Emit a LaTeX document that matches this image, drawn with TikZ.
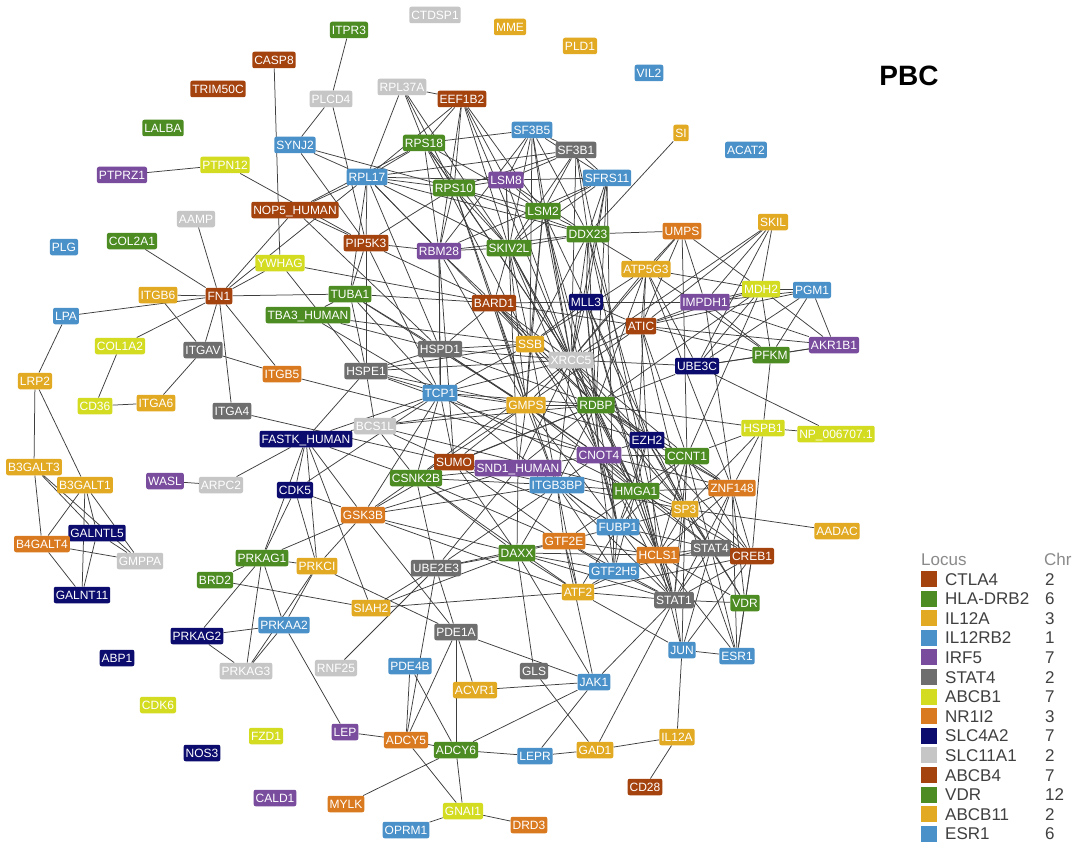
\documentclass[tikz,border=0pt]{standalone}
\usepackage{fontspec}
\setmainfont{Liberation Sans}
\definecolor{cBr}{HTML}{A5430F}
\definecolor{cGr}{HTML}{4C8C22}
\definecolor{cGo}{HTML}{E2A922}
\definecolor{cBl}{HTML}{4A91C9}
\definecolor{cPu}{HTML}{7A4C9E}
\definecolor{cGy}{HTML}{6E6E6E}
\definecolor{cLi}{HTML}{D4DC22}
\definecolor{cOr}{HTML}{DA7A20}
\definecolor{cNv}{HTML}{0C0C6E}
\definecolor{cLg}{HTML}{C6C6C6}
\definecolor{edgec}{HTML}{3E3E3E}
\definecolor{legtext}{HTML}{404040}
\definecolor{leghead}{HTML}{8A8A8A}
\pgfdeclarelayer{bgl}
\pgfdeclarelayer{edgel}
\pgfsetlayers{bgl,edgel,main}
\tikzset{
  nb/.style={rounded corners=2pt, text=white, font=\fontsize{12}{12}\selectfont,
    inner xsep=2pt, inner ysep=0pt, minimum height=16.5pt, text height=8.6pt, text depth=0pt},
  br/.style={nb, fill=cBr}, gr/.style={nb, fill=cGr}, go/.style={nb, fill=cGo},
  bl/.style={nb, fill=cBl}, pu/.style={nb, fill=cPu}, gy/.style={nb, fill=cGy},
  li/.style={nb, fill=cLi}, ora/.style={nb, fill=cOr}, nv/.style={nb, fill=cNv},
  lg/.style={nb, fill=cLg},
  ed/.style={draw=edgec, line width=0.75pt},
  legt/.style={text=legtext, font=\fontsize{17}{17}\selectfont, anchor=west, inner sep=0pt, text height=12pt, text depth=0pt}
}
\begin{document}
\begin{tikzpicture}[x=1pt,y=-1pt]
\useasboundingbox (0,0) rectangle (1082,848);
\begin{pgfonlayer}{bgl}
\fill[white] (0,0) rectangle (1082,848);
\end{pgfonlayer}
% nodes
\node[gr] (ITPR3) at (349,30) {ITPR3};
\node[lg] (CTDSP1) at (435,15) {CTDSP1};
\node[go] (MME) at (510,27) {MME};
\node[go] (PLD1) at (580,46) {PLD1};
\node[bl] (VIL2) at (649,73) {VIL2};
\node[br] (CASP8) at (274,60) {CASP8};
\node[br] (TRIM50C) at (218,89) {TRIM50C};
\node[lg] (RPL37A) at (402,87) {RPL37A};
\node[lg] (PLCD4) at (331,99) {PLCD4};
\node[br] (EEF1B2) at (462,99) {EEF1B2};
\node[gr] (LALBA) at (163,128) {LALBA};
\node[bl] (SF3B5) at (532,130) {SF3B5};
\node[go] (SI) at (681,133) {SI};
\node[gr] (RPS18) at (424,143) {RPS18};
\node[bl] (SYNJ2) at (295,145) {SYNJ2};
\node[gy] (SF3B1) at (576,150) {SF3B1};
\node[bl] (ACAT2) at (746,150) {ACAT2};
\node[li] (PTPN12) at (225,165) {PTPN12};
\node[pu] (PTPRZ1) at (122,175) {PTPRZ1};
\node[bl] (RPL17) at (367,177) {RPL17};
\node[bl] (SFRS11) at (607,178) {SFRS11};
\node[pu] (LSM8) at (506,180) {LSM8};
\node[gr] (RPS10) at (454,188) {RPS10};
\node[br] (NOP5) at (295,210) {NOP5\_HUMAN};
\node[gr] (LSM2) at (543,211) {LSM2};
\node[lg] (AAMP) at (196,219) {AAMP};
\node[go] (SKIL) at (773,222) {SKIL};
\node[ora] (UMPS) at (682,231) {UMPS};
\node[gr] (DDX23) at (588,234) {DDX23};
\node[gr] (COL2A1) at (132,241) {COL2A1};
\node[br] (PIP5K3) at (366,243) {PIP5K3};
\node[bl] (PLG) at (64,247) {PLG};
\node[gr] (SKIV2L) at (509,248) {SKIV2L};
\node[pu] (RBM28) at (439,251) {RBM28};
\node[li] (YWHAG) at (280,263) {YWHAG};
\node[go] (ATP5G3) at (646,269) {ATP5G3};
\node[li] (MDH2) at (761,289) {MDH2};
\node[bl] (PGM1) at (812,290) {PGM1};
\node[go] (ITGB6) at (158,295) {ITGB6};
\node[br] (FN1) at (219,296) {FN1};
\node[gr] (TUBA1) at (350,294) {TUBA1};
\node[br] (BARD1) at (494,303) {BARD1};
\node[nv] (MLL3) at (586,302) {MLL3};
\node[pu] (IMPDH1) at (705,302) {IMPDH1};
\node[gr] (TBA3) at (308,315) {TBA3\_HUMAN};
\node[bl] (LPA) at (66,316) {LPA};
\node[br] (ATIC) at (641,326) {ATIC};
\node[go] (SSB) at (530,344) {SSB};
\node[pu] (AKR1B1) at (834,345) {AKR1B1};
\node[li] (COL1A2) at (120,346) {COL1A2};
\node[gy] (HSPD1) at (440,349) {HSPD1};
\node[gy] (ITGAV) at (203,350) {ITGAV};
\node[gr] (PFKM) at (771,355) {PFKM};
\node[lg] (XRCC5) at (571,360) {XRCC5};
\node[nv] (UBE3C) at (697,366) {UBE3C};
\node[gy] (HSPE1) at (366,371) {HSPE1};
\node[ora] (ITGB5) at (282,374) {ITGB5};
\node[go] (LRP2) at (35,381) {LRP2};
\node[bl] (TCP1) at (440,393) {TCP1};
\node[go] (ITGA6) at (156,403) {ITGA6};
\node[li] (CD36) at (95,406) {CD36};
\node[go] (GMPS) at (526,405) {GMPS};
\node[gr] (RDBP) at (596,405) {RDBP};
\node[gy] (ITGA4) at (232,411) {ITGA4};
\node[lg] (BCS1L) at (375,426) {BCS1L};
\node[li] (HSPB1) at (763,428) {HSPB1};
\node[li] (NP006707) at (836,434) {NP\_006707.1};
\node[nv] (FASTK) at (306,439) {FASTK\_HUMAN};
\node[nv] (EZH2) at (647,440) {EZH2};
\node[pu] (CNOT4) at (599,455) {CNOT4};
\node[gr] (CCNT1) at (687,456) {CCNT1};
\node[br] (SUMO) at (454,462) {SUMO};
\node[go] (B3GALT3) at (34,467) {B3GALT3};
\node[pu] (SND1) at (518,468) {SND1\_HUMAN};
\node[gr] (CSNK2B) at (416,478) {CSNK2B};
\node[pu] (WASL) at (165,481) {WASL};
\node[lg] (ARPC2) at (221,485) {ARPC2};
\node[go] (B3GALT1) at (85,485) {B3GALT1};
\node[bl] (ITGB3BP) at (557,485) {ITGB3BP};
\node[nv] (CDK5) at (295,490) {CDK5};
\node[ora] (ZNF148) at (732,488) {ZNF148};
\node[gr] (HMGA1) at (636,491) {HMGA1};
\node[go] (SP3) at (685,509) {SP3};
\node[ora] (GSK3B) at (363,515) {GSK3B};
\node[bl] (FUBP1) at (618,527) {FUBP1};
\node[go] (AADAC) at (837,531) {AADAC};
\node[nv] (GALNTL5) at (97,533) {GALNTL5};
\node[ora] (GTF2E) at (564,541) {GTF2E};
\node[ora] (B4GALT4) at (42,544) {B4GALT4};
\node[gy] (STAT4) at (711,548) {STAT4};
\node[gr] (DAXX) at (517,553) {DAXX};
\node[ora] (HCLS1) at (658,555) {HCLS1};
\node[br] (CREB1) at (752,556) {CREB1};
\node[gr] (PRKAG1) at (262,558) {PRKAG1};
\node[lg] (GMPPA) at (140,561) {GMPPA};
\node[go] (PRKCI) at (317,566) {PRKCI};
\node[gy] (UBE2E3) at (436,568) {UBE2E3};
\node[bl] (GTF2H5) at (614,571) {GTF2H5};
\node[gr] (BRD2) at (215,580) {BRD2};
\node[go] (ATF2) at (578,592) {ATF2};
\node[nv] (GALNT11) at (82,595) {GALNT11};
\node[gy] (STAT1) at (674,600) {STAT1};
\node[gr] (VDR) at (745,603) {VDR};
\node[go] (SIAH2) at (371,608) {SIAH2};
\node[bl] (PRKAA2) at (284,625) {PRKAA2};
\node[gy] (PDE1A) at (456,632) {PDE1A};
\node[nv] (PRKAG2) at (197,636) {PRKAG2};
\node[bl] (JUN) at (682,650) {JUN};
\node[bl] (ESR1) at (737,656) {ESR1};
\node[nv] (ABP1) at (117,658) {ABP1};
\node[bl] (PDE4B) at (410,666) {PDE4B};
\node[lg] (RNF25) at (336,668) {RNF25};
\node[gy] (GLS) at (534,671) {GLS};
\node[lg] (PRKAG3) at (246,671) {PRKAG3};
\node[bl] (JAK1) at (594,682) {JAK1};
\node[go] (ACVR1) at (475,690) {ACVR1};
\node[li] (CDK6) at (158,705) {CDK6};
\node[pu] (LEP) at (345,732) {LEP};
\node[li] (FZD1) at (266,736) {FZD1};
\node[go] (IL12A) at (677,737) {IL12A};
\node[ora] (ADCY5) at (406,740) {ADCY5};
\node[gr] (ADCY6) at (456,750) {ADCY6};
\node[go] (GAD1) at (595,750) {GAD1};
\node[nv] (NOS3) at (202,753) {NOS3};
\node[bl] (LEPR) at (535,756) {LEPR};
\node[br] (CD28) at (645,787) {CD28};
\node[pu] (CALD1) at (275,798) {CALD1};
\node[ora] (MYLK) at (346,804) {MYLK};
\node[li] (GNAI1) at (463,811) {GNAI1};
\node[ora] (DRD3) at (529,825) {DRD3};
\node[bl] (OPRM1) at (406,830) {OPRM1};
% title
\node[font=\bfseries\fontsize{28}{28}\selectfont, inner sep=0pt] (title) at (909,76) {PBC};
% edges
\begin{pgfonlayer}{edgel}
\foreach \a/\b in {ITPR3/PLCD4, CASP8/YWHAG, PLCD4/SYNJ2, PLCD4/PIP5K3, SYNJ2/RPL17, SYNJ2/RPS10, SYNJ2/PIP5K3,
 PTPRZ1/PTPN12, PTPN12/PIP5K3, NOP5/RPL17, NOP5/RPS18, NOP5/PIP5K3, NOP5/FN1, NOP5/HSPD1,
 YWHAG/FN1, YWHAG/BARD1, YWHAG/HSPE1, FN1/RPL17, AAMP/FN1, COL2A1/FN1, ITGB6/FN1, LPA/FN1, LPA/LRP2,
 COL1A2/FN1, COL1A2/CD36, CD36/ITGA6, ITGA6/ITGAV, ITGB6/ITGAV, FN1/ITGAV, FN1/ITGA4, FN1/ITGB5,
 ITGAV/ITGB5, FN1/TUBA1, ITGA4/SUMO, ITGB5/CNOT4, LRP2/B3GALT3, LRP2/B3GALT1, B3GALT3/B4GALT4,
 B3GALT3/GALNTL5, B3GALT3/GMPPA, B3GALT1/B4GALT4, B3GALT1/GALNTL5, B3GALT1/GALNT11, B3GALT1/GMPPA,
 B4GALT4/GMPPA, B4GALT4/GALNT11, GALNTL5/GALNT11, GALNTL5/GMPPA, WASL/ARPC2, ARPC2/FASTK,
 FASTK/CDK5, FASTK/PRKAG1, FASTK/PRKCI, FASTK/GSK3B, FASTK/TCP1, FASTK/BCS1L, FASTK/CSNK2B,
 FASTK/SIAH2, FASTK/HSPE1, CDK5/GSK3B, CDK5/PRKAG1, CDK5/PRKCI, CDK5/TCP1, PRKAG1/PRKCI,
 PRKAG1/BRD2, PRKAG1/PRKAG2, PRKAG1/PRKAG3, PRKAG1/PRKAA2, PRKAG1/GSK3B, PRKCI/PRKAA2,
 PRKCI/PRKAG3, PRKCI/GSK3B, PRKCI/PDE1A, PRKAG2/PRKAA2, PRKAG2/PRKAG3, PRKAA2/PRKAG3,
 PRKAA2/LEP, BRD2/SIAH2, RNF25/UBE2E3, LEP/ADCY5, GSK3B/CSNK2B, GSK3B/PDE1A, GSK3B/SUMO,
 GSK3B/TCP1, GSK3B/SND1, GSK3B/ITGB3BP, SIAH2/ATF2, SIAH2/UBE2E3, UBE2E3/PDE1A, UBE2E3/ADCY5,
 UBE2E3/SND1, UBE2E3/CSNK2B, UBE2E3/ITGB3BP, PDE1A/ACVR1, PDE1A/ADCY6, PDE1A/ADCY5, PDE1A/JAK1,
 PDE4B/ADCY5, PDE4B/ADCY6, ADCY5/GNAI1, ADCY5/ADCY6, ADCY6/GNAI1, ADCY6/LEPR, ADCY6/JAK1,
 ADCY6/MYLK, GNAI1/OPRM1, GNAI1/DRD3, ACVR1/JAK1, GLS/DAXX, GLS/GAD1, JAK1/LEPR, JAK1/STAT1,
 JAK1/DAXX, JAK1/GTF2E, GAD1/IL12A, GAD1/LEPR, GAD1/STAT1, IL12A/JUN, IL12A/CD28, JUN/ESR1,
 JUN/STAT1, JUN/ATF2, JUN/STAT4, JUN/HCLS1, JUN/CREB1, JUN/SP3, ATF2/STAT1, ESR1/VDR, ESR1/STAT4,
 ESR1/CREB1, ESR1/HCLS1, ESR1/ZNF148, ESR1/SP3, VDR/STAT1, VDR/CREB1, VDR/STAT4, VDR/ZNF148, VDR/SP3,
 SUMO/GTF2E, CSNK2B/GTF2E, CSNK2B/ITGB3BP, UBE2E3/DAXX, UBE2E3/GTF2E, GSK3B/DAXX, GSK3B/ATF2,
 SIAH2/DAXX, TCP1/HMGA1, HSPE1/CNOT4, BCS1L/HMGA1, SUMO/FUBP1}
 \draw[ed] (\a) -- (\b);
\foreach \a/\b in {MDH2/PGM1, MDH2/PFKM, MDH2/AKR1B1, PGM1/AKR1B1, PGM1/PFKM, PFKM/AKR1B1, SKIL/MDH2,
 SKIL/ATIC, SKIL/IMPDH1, SKIL/UBE3C, SKIL/XRCC5, PFKM/HSPB1, HSPB1/NP006707, HSPB1/ZNF148,
 HSPB1/CREB1, HSPB1/CCNT1, HSPB1/SP3, RDBP/HSPB1, NP006707/UBE3C, AADAC/SP3, IMPDH1/MDH2,
 IMPDH1/PGM1, IMPDH1/ATIC, IMPDH1/MLL3, IMPDH1/AKR1B1, IMPDH1/PFKM, ATIC/MDH2, ATIC/PGM1,
 ATIC/PFKM, ATIC/AKR1B1, ATIC/XRCC5, ATIC/GMPS, UMPS/ATIC, UMPS/IMPDH1, UMPS/ATP5G3, UMPS/XRCC5,
 UMPS/MDH2, UMPS/DDX23, ATP5G3/MDH2, ATP5G3/XRCC5, ATP5G3/RDBP, ATP5G3/SSB, ATP5G3/ATIC,
 ATP5G3/PFKM, ATP5G3/UBE3C, UBE3C/PFKM, UBE3C/MDH2, UBE3C/AKR1B1, UBE3C/XRCC5, UBE3C/RDBP,
 MDH2/RDBP, MDH2/CCNT1, PGM1/UBE3C, SI/DDX23,
 RPL37A/EEF1B2, RPL37A/RPL17, RPL37A/RPS10, RPL37A/SKIV2L, RPL37A/RPS18, EEF1B2/RPS18,
 EEF1B2/RPL17, EEF1B2/RPS10, EEF1B2/LSM8, EEF1B2/RBM28, EEF1B2/SKIV2L, EEF1B2/LSM2,
 SF3B5/SF3B1, SF3B5/RPS18, SF3B5/LSM8, SF3B5/LSM2, SF3B5/SFRS11, SF3B5/DDX23, SF3B5/SKIV2L,
 SF3B5/RBM28, SF3B5/SSB, SF3B5/XRCC5, SF3B1/LSM8, SF3B1/SFRS11, SF3B1/LSM2, SF3B1/DDX23,
 SF3B1/SKIV2L, SF3B1/RPS10, SF3B1/XRCC5, SF3B1/RPL17, SFRS11/LSM8, SFRS11/DDX23, SFRS11/LSM2,
 SFRS11/SKIV2L, SFRS11/RDBP, SFRS11/RBM28, LSM8/RPS10, LSM8/LSM2, LSM8/SKIV2L, LSM8/RPL17,
 LSM8/DDX23, RPS10/RPS18, RPS10/RPL17, RPS10/LSM2, RPS10/DDX23, RPS10/SKIV2L, RPS10/RBM28,
 RPS10/PIP5K3, RPL17/RPS18, RPL17/SKIV2L, RPL17/DDX23, RPL17/RBM28, RPL17/PIP5K3, RPL17/TUBA1,
 RPS18/RBM28, RPS18/SKIV2L, RPS18/LSM2, DDX23/SKIV2L, DDX23/LSM2, DDX23/ATP5G3, DDX23/RBM28,
 DDX23/XRCC5, DDX23/SSB, RBM28/SKIV2L, RBM28/PIP5K3, RBM28/BARD1, RBM28/HSPD1, SKIV2L/LSM2,
 SKIV2L/XRCC5, SKIV2L/SSB, SKIV2L/GMPS, SKIV2L/BARD1, LSM2/XRCC5, LSM2/RDBP, LSM2/GMPS, LSM2/MLL3}
 \draw[ed] (\a) -- (\b);
\foreach \a/\b in {PIP5K3/TUBA1, PIP5K3/HSPE1, PIP5K3/TCP1, PIP5K3/BARD1, TUBA1/TBA3, TUBA1/HSPE1,
 TUBA1/TCP1, TUBA1/HSPD1, TUBA1/BARD1, TBA3/TCP1, TBA3/HSPD1, TBA3/SSB, HSPE1/HSPD1, HSPE1/TCP1,
 HSPE1/XRCC5, HSPE1/BCS1L, HSPD1/TCP1, HSPD1/SSB, HSPD1/XRCC5, HSPD1/GMPS, TCP1/GMPS, TCP1/BCS1L,
 TCP1/SSB, TCP1/CSNK2B, TCP1/SUMO, TCP1/RDBP, TCP1/ITGB3BP, SSB/XRCC5, SSB/GMPS, SSB/RDBP, SSB/BARD1,
 SSB/MLL3, SSB/HMGA1, XRCC5/RDBP, XRCC5/GMPS, XRCC5/MLL3, XRCC5/BARD1, XRCC5/CNOT4, XRCC5/EZH2,
 XRCC5/HMGA1, XRCC5/ITGB3BP, XRCC5/SND1, XRCC5/CCNT1, BARD1/MLL3, BARD1/GMPS, BARD1/HSPD1,
 BARD1/ATIC, MLL3/ATIC, MLL3/RDBP, MLL3/EZH2, MLL3/STAT1, MLL3/HCLS1, GMPS/RDBP, GMPS/SND1,
 GMPS/SUMO, GMPS/CSNK2B, GMPS/ITGB3BP, GMPS/CNOT4, RDBP/CNOT4, RDBP/EZH2, RDBP/HMGA1,
 RDBP/ITGB3BP, RDBP/CCNT1, RDBP/FUBP1, RDBP/SP3, RDBP/HCLS1, RDBP/ZNF148, BCS1L/CSNK2B,
 BCS1L/SUMO, BCS1L/GMPS, SUMO/SND1, SUMO/CSNK2B, SUMO/ITGB3BP, SUMO/DAXX, CSNK2B/SND1,
 CSNK2B/DAXX, CSNK2B/ATF2, SND1/ITGB3BP, SND1/CNOT4, SND1/DAXX,
 SF3B1/STAT1, SFRS11/GTF2H5, DDX23/HCLS1, LSM2/FUBP1, RPS10/ITGB3BP, SKIV2L/CNOT4, SKIV2L/HMGA1,
 LSM8/SND1, RBM28/SUMO, DDX23/EZH2, ATP5G3/HMGA1, ATP5G3/ZNF148, UMPS/CCNT1, ATIC/CCNT1,
 ATIC/SP3, ATIC/EZH2, IMPDH1/ZNF148,
 RPL17/HSPD1, RPL17/SSB, RPS18/SSB, RPS18/XRCC5, RPS10/XRCC5, RPS10/GMPS, EEF1B2/XRCC5,
 RBM28/TCP1, RBM28/GMPS, TUBA1/GMPS, HSPE1/GMPS, HSPE1/SSB, TCP1/XRCC5, BCS1L/RDBP, SUMO/RDBP,
 CSNK2B/RDBP, CSNK2B/XRCC5, SND1/RDBP, HSPD1/RDBP, HSPD1/CNOT4, SSB/CNOT4, SSB/ITGB3BP,
 XRCC5/FUBP1, XRCC5/SP3, MLL3/CNOT4, MLL3/SP3, BARD1/RDBP, BARD1/EZH2, GMPS/HMGA1, GMPS/FUBP1,
 GMPS/EZH2, LSM8/XRCC5, LSM2/SSB, SKIV2L/RDBP, DDX23/RDBP, DDX23/MLL3, SFRS11/XRCC5, SFRS11/MLL3}
 \draw[ed] (\a) -- (\b);
\foreach \a/\b in {CNOT4/EZH2, CNOT4/CCNT1, CNOT4/HMGA1, CNOT4/ITGB3BP, CNOT4/FUBP1, CNOT4/SP3,
 CNOT4/HCLS1, CNOT4/STAT4, CNOT4/GTF2H5, CNOT4/STAT1, CNOT4/ZNF148, EZH2/CCNT1, EZH2/HMGA1,
 EZH2/SP3, EZH2/ZNF148, EZH2/FUBP1, EZH2/STAT4, EZH2/HCLS1, EZH2/CREB1, CCNT1/HMGA1, CCNT1/ZNF148,
 CCNT1/SP3, CCNT1/STAT4, CCNT1/CREB1, CCNT1/HCLS1, CCNT1/STAT1, CCNT1/FUBP1, ITGB3BP/HMGA1,
 ITGB3BP/FUBP1, ITGB3BP/GTF2E, ITGB3BP/GTF2H5, ITGB3BP/HCLS1, ITGB3BP/STAT1, ITGB3BP/ATF2,
 ITGB3BP/DAXX, ITGB3BP/SP3, HMGA1/SP3, HMGA1/ZNF148, HMGA1/FUBP1, HMGA1/HCLS1, HMGA1/STAT4,
 HMGA1/GTF2H5, HMGA1/STAT1, HMGA1/CREB1, HMGA1/GTF2E, ZNF148/SP3, ZNF148/STAT4, ZNF148/CREB1,
 ZNF148/STAT1, ZNF148/HCLS1, SP3/STAT4, SP3/CREB1, SP3/STAT1, SP3/HCLS1, SP3/FUBP1,
 FUBP1/GTF2E, FUBP1/HCLS1, FUBP1/GTF2H5, FUBP1/STAT1, FUBP1/ATF2, FUBP1/STAT4, GTF2E/DAXX,
 GTF2E/GTF2H5, GTF2E/ATF2, GTF2E/HCLS1, GTF2E/STAT1, DAXX/ATF2, DAXX/GTF2H5, DAXX/STAT1,
 DAXX/HCLS1, HCLS1/STAT4, HCLS1/GTF2H5, HCLS1/STAT1, HCLS1/CREB1, HCLS1/VDR, HCLS1/ATF2,
 STAT4/CREB1, STAT4/STAT1, STAT4/GTF2H5, CREB1/STAT1, CREB1/ATF2, GTF2H5/ATF2, GTF2H5/STAT1}
 \draw[ed] (\a) -- (\b);
\end{pgfonlayer}
% legend
\node[text=leghead, font=\fontsize{17}{17}\selectfont, anchor=west, inner sep=0pt, text height=12pt, text depth=0pt] (lochead) at (921,559) {Locus};
\node[text=leghead, font=\fontsize{17}{17}\selectfont, anchor=west, inner sep=0pt, text height=12pt, text depth=0pt] (chrhead) at (1044,559) {Chr};
\foreach \c/\l/\n [count=\i from 0] in {cBr/CTLA4/2, cGr/HLA-DRB2/6, cGo/IL12A/3, cBl/IL12RB2/1,
  cPu/IRF5/7, cGy/STAT4/2, cLi/ABCB1/7, cOr/NR1I2/3, cNv/SLC4A2/7, cLg/SLC11A1/2, cBr/ABCB4/7,
  cGr/VDR/12, cGo/ABCB11/2, cBl/ESR1/6} {
  \node[fill=\c, minimum width=16pt, minimum height=16pt, inner sep=0pt, anchor=west] (sw\i) at (921,579+19.6*\i) {};
  \node[legt] (ll\i) at (945,579+19.6*\i) {\l};
  \node[legt] (lc\i) at (1045,579+19.6*\i) {\n};
}
\end{tikzpicture}
\end{document}
